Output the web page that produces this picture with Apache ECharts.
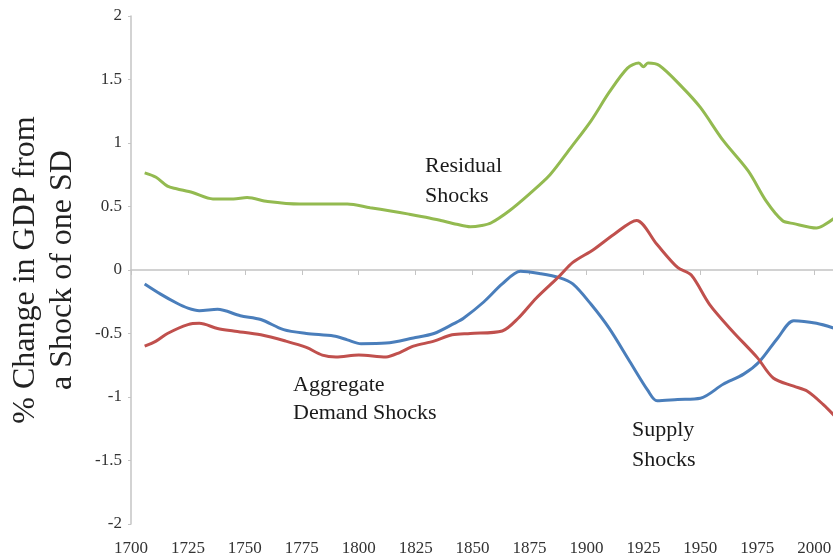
<!DOCTYPE html>
<html>
<head>
<meta charset="utf-8">
<script src="https://cdn.jsdelivr.net/npm/echarts@6/dist/echarts.min.js"></script>
<style>
html,body{margin:0;padding:0;background:#fff;}
#chart{width:833px;height:557px;}
</style>
</head>
<body>
<div id="chart"></div>
<script>
// Residual Shocks (green)
var residualYears = [1706,1711,1716,1720,1727,1736,1745,1751,1760,1774,1795,1805,1814,1822,1831,1836,1843,1849,1854,1858,1866,1875,1884,1893,1902,1910,1918,1923,1925,1927,1932,1942,1950,1960,1971,1979,1986,1991,2001,2004,2009];
var residualValues = [0.765,0.73,0.66,0.64,0.61,0.56,0.56,0.57,0.54,0.52,0.52,0.49,0.465,0.44,0.41,0.39,0.36,0.34,0.35,0.37,0.465,0.60,0.75,0.96,1.175,1.40,1.59,1.63,1.60,1.63,1.61,1.44,1.28,1.02,0.78,0.54,0.39,0.365,0.33,0.35,0.41];
// Supply Shocks (blue)
var supplyYears = [1706,1713,1720,1725,1730,1738,1748,1757,1767,1777,1789,1795,1801,1812,1824,1833,1842,1846,1855,1863,1871,1880,1888,1894,1902,1910,1919,1927,1931,1940,1950,1960,1969,1976,1984,1991,2001,2009];
var supplyValues = [-0.11,-0.19,-0.26,-0.30,-0.32,-0.31,-0.36,-0.39,-0.47,-0.50,-0.52,-0.55,-0.58,-0.575,-0.535,-0.50,-0.42,-0.38,-0.25,-0.11,-0.01,-0.03,-0.06,-0.11,-0.27,-0.46,-0.72,-0.95,-1.03,-1.02,-1.01,-0.90,-0.82,-0.72,-0.535,-0.40,-0.42,-0.46];
// Aggregate Demand Shocks (red)
var demandYears = [1706,1711,1716,1725,1730,1738,1745,1757,1768,1777,1784,1790,1800,1812,1818,1824,1833,1841,1849,1863,1870,1878,1888,1894,1903,1912,1922,1931,1940,1946,1954,1964,1975,1982,1991,1997,2004,2009];
var demandValues = [-0.60,-0.56,-0.50,-0.43,-0.42,-0.46,-0.48,-0.51,-0.56,-0.61,-0.67,-0.685,-0.67,-0.685,-0.65,-0.60,-0.56,-0.51,-0.50,-0.48,-0.38,-0.22,-0.05,0.06,0.16,0.28,0.39,0.20,0.02,-0.04,-0.27,-0.48,-0.69,-0.85,-0.915,-0.955,-1.06,-1.15];

var xMin = 1700, xMax = 2010, xStep = 25;
var yMin = -2, yMax = 2, yStep = 0.5;
var yAxisTitle = '% Change in GDP from\na Shock of one SD';
var annotations = [
  {text: 'Residual\nShocks', x: 425, y: 151, lh: 30},
  {text: 'Aggregate\nDemand Shocks', x: 293, y: 371, lh: 28},
  {text: 'Supply\nShocks', x: 632, y: 415, lh: 30}
];

function pairs(xs, ys){ return xs.map(function(x,i){ return [x, ys[i]]; }); }

var FONT = 'Liberation Serif';
var chart = echarts.init(document.getElementById('chart'), null, {renderer:'canvas'});
chart.setOption({
  backgroundColor: '#ffffff',
  animation: false,
  grid: {left: 131, right: -4, top: 16, bottom: 33, containLabel: false, outerBoundsMode: 'none'},
  xAxis: [
    {
      type: 'value', min: xMin, max: xMax, interval: xStep,
      axisLine: {show: false, onZero: false},
      axisTick: {show: false},
      splitLine: {show: false},
      axisLabel: {show: true, showMaxLabel: false, hideOverlap: false, margin: 16, color: '#333', fontFamily: FONT, fontSize: 17,
        formatter: function(v){ return (v % 25 === 0) ? String(v) : ''; }}
    },
    {
      type: 'value', min: xMin, max: xMax, interval: xStep, position: 'top',
      axisLine: {show: true, onZero: true, lineStyle: {color: '#c4c4c4', width: 1.5}},
      axisTick: {show: true, inside: true, length: 5, lineStyle: {color: '#c4c4c4', width: 1}},
      axisLabel: {show: false},
      splitLine: {show: false}
    }
  ],
  yAxis: {
    type: 'value', min: yMin, max: yMax, interval: yStep,
    axisLine: {show: true, lineStyle: {color: '#c4c4c4', width: 1.5}},
    axisTick: {show: true, length: 3, lineStyle: {color: '#c4c4c4'}},
    splitLine: {show: false},
    axisLabel: {margin: 9, color: '#333', fontFamily: FONT, fontSize: 17},
    name: yAxisTitle, nameLocation: 'middle', nameRotate: 90, nameGap: 50, nameMoveOverlap: false,
    nameTextStyle: {fontFamily: FONT, fontSize: 32, lineHeight: 37, color: '#222'}
  },
  series: [
    {name: 'Residual Shocks', type: 'line', xAxisIndex: 0, data: pairs(residualYears, residualValues), smooth: 0.3, showSymbol: false,
     lineStyle: {color: '#93BA50', width: 3}},
    {name: 'Supply Shocks', type: 'line', xAxisIndex: 0, data: pairs(supplyYears, supplyValues), smooth: 0.3, showSymbol: false,
     lineStyle: {color: '#4A7EBB', width: 3}},
    {name: 'Aggregate Demand Shocks', type: 'line', xAxisIndex: 0, data: pairs(demandYears, demandValues), smooth: 0.3, showSymbol: false,
     lineStyle: {color: '#C0504D', width: 3}}
  ],
  graphic: annotations.map(function(a){
    return {type: 'text', left: a.x, top: a.y, style: {text: a.text, font: '22px "Liberation Serif"', lineHeight: a.lh, fill: '#1a1a1a'}};
  })
});
</script>
</body>
</html>
